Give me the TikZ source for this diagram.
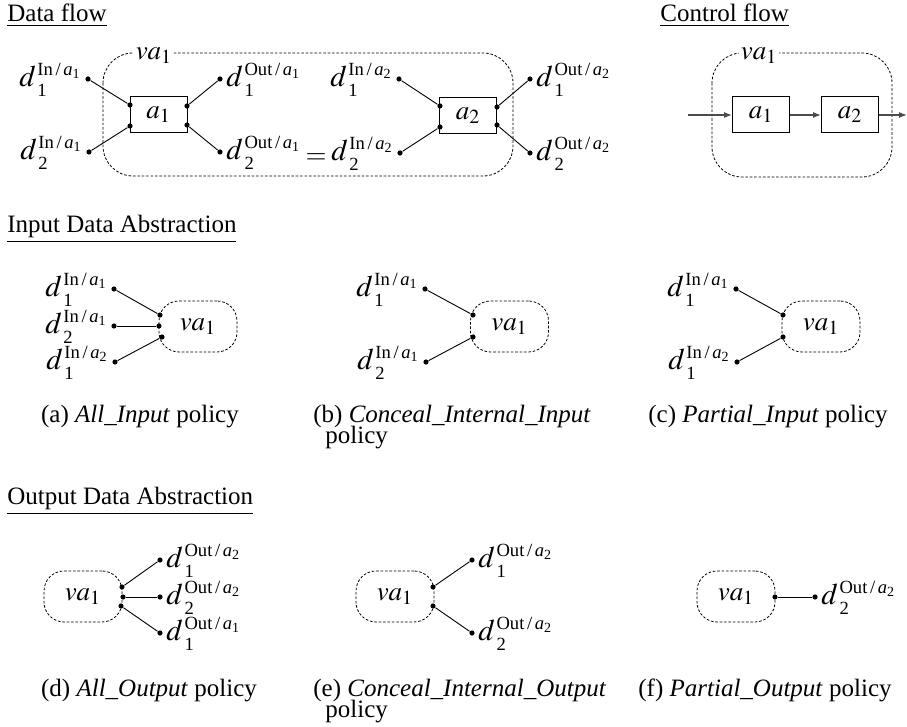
\documentclass[tikz,border=0pt]{standalone}
\usepackage{mathptmx}
\usepackage{fontspec}
\setmainfont{Liberation Serif}
\usetikzlibrary{arrows.meta, positioning}

\newcommand{\txtsize}{\fontsize{12.5}{10}\selectfont}
\newcommand{\mathsz}{\fontsize{13.5}{16}\selectfont}
\newcommand{\labsz}{\fontsize{15}{16}\selectfont}
\newcommand{\supf}{\fontsize{9.3}{10}\selectfont}
\newcommand{\subf}{\fontsize{9.3}{10}\selectfont}
\newcommand{\ssubf}{\fontsize{7}{8}\selectfont}
\newcommand{\dlab}[3]{\mbox{$d$\kern0.8pt\lower5.3pt\vbox{\baselineskip=10.8pt\lineskiplimit=-20pt
  \hbox{\supf #1\kern1.3pt/\kern1.3pt\textit{a}\lower1.8pt\hbox{\ssubf #3}}\hbox{\subf #2}}}}
\newcommand{\din}[2]{\dlab{In}{#1}{#2}}
\newcommand{\dout}[2]{\dlab{Out}{#1}{#2}}

\tikzset{
  dot/.style={circle, fill=black, inner sep=0pt, minimum size=2.6pt},
  vabox/.style={draw, dash pattern=on 1.3pt off 0.9pt, line width=0.4pt, rounded corners=15pt},
  vanode/.style={draw, dash pattern=on 1.3pt off 0.9pt, line width=0.4pt, rounded corners=10pt,
    minimum width=39pt, minimum height=25.5pt, inner sep=0pt, font=\mathsz},
  valabel/.style={fill=white, inner sep=1pt, font=\mathsz},
  actbox/.style={draw, line width=0.5pt, minimum width=28.5pt, minimum height=18pt, font=\mathsz},
  heading/.style={anchor=base west, inner sep=0pt, font=\txtsize},
  caption/.style={anchor=base, inner sep=0pt, font=\txtsize},
  capline/.style={anchor=base west, inner sep=0pt, font=\txtsize},
  dlabel/.style={inner sep=0pt, yshift=-0.5pt, font=\labsz},
  link/.style={line width=0.45pt},
  flow/.style={line width=0.6pt, draw=black!70, -{Latex[length=4pt,width=3pt]}},
}

\begin{document}
\begin{tikzpicture}[x=0.5pt, y=-0.5pt]
\useasboundingbox (0,0) rectangle (907,727);

% data flow
\node[heading] (tdata) at (7,22) {\underline{Data flow}};
\draw[vabox] (103,53) rectangle (513,176);
\node[valabel] (vad) at (154,56) {$va_1$};
\node[actbox] (a1) at (158.5,115) {$a_1$};
\node[actbox] (a2) at (468,115.5) {$a_2$};
\foreach \n/\x/\y in {p1/130/105, p2/130/126, p3/187/106, p4/187/125,
                      q1/440/106, q2/440/127, q3/497/107, q4/497/125,
                      i1/88/79, i2/89/152, o1/220/79, o2/220/152,
                      j1/399/79, j2/400/153, r1/530/79, r2/530/153} {
    \node[dot] (\n) at (\x,\y) {};
}
\foreach \s/\t in {i1/p1, i2/p2, p3/o1, p4/o2, j1/q1, j2/q2, q3/r1, q4/r2} {
    \draw[link] (\s) -- (\t);
}
\node[dlabel, left=2.5pt of i1] (li1) {\din{1}{1}};
\node[dlabel, left=2.5pt of i2] (li2) {\din{2}{1}};
\node[dlabel, right=1.5pt of o1] (lo1) {\dout{1}{1}};
\node[dlabel, right=1.5pt of o2] (lo2) {\dout{2}{1}};
\node[dlabel, left=2.5pt of j1] (lj1) {\din{1}{2}};
\node[dlabel, left=2.5pt of j2] (lj2) {\din{2}{2}};
\node[dlabel, right=1.5pt of r1] (lr1) {\dout{1}{2}};
\node[dlabel, right=1.5pt of r2] (lr2) {\dout{2}{2}};
\node[font=\mathsz] (eq) at (316,159) {$=$};

% control flow
\node[heading] (tctrl) at (660,22) {\underline{Control flow}};
\draw[vabox] (712,53) rectangle (892,177);
\node[valabel] (vac) at (759,56) {$va_1$};
\node[actbox] (c1) at (761,115) {$a_1$};
\node[actbox] (c2) at (850,115) {$a_2$};
\coordinate (cin) at (688,115);
\coordinate (cout) at (907,115);
\draw[flow] (cin) -- (c1);
\draw[flow] (c1) -- (c2);
\draw[flow] (c2) -- (cout);

% input data abstraction
\node[heading] (tin) at (7,233) {\underline{Input Data Abstraction}};
\node[vanode] (vaa) at (198,326.5) {$va_1$};
\node[vanode] (vab) at (509.5,326.5) {$va_1$};
\node[vanode] (vac) at (821,326.5) {$va_1$};
\foreach \n/\x/\y in {ea1/160/315, ea2/159/326, ea3/162/337, ga1/114/289, ga2/114/326, ga3/115/362,
                      eb1/473/315, eb2/473/337, gb1/425/289, gb2/426/362,
                      ec1/783/315, ec2/783/337, gc1/736/289, gc2/737/362} {
    \node[dot] (\n) at (\x,\y) {};
}
\foreach \s/\t in {ga1/ea1, ga2/ea2, ga3/ea3, gb1/eb1, gb2/eb2, gc1/ec1, gc2/ec2} {
    \draw[link] (\s) -- (\t);
}
\node[dlabel, left=2.5pt of ga1] {\din{1}{1}};
\node[dlabel, left=2.5pt of ga2] {\din{2}{1}};
\node[dlabel, left=2.5pt of ga3] {\din{1}{2}};
\node[dlabel, left=2.5pt of gb1] {\din{1}{1}};
\node[dlabel, left=2.5pt of gb2] {\din{2}{1}};
\node[dlabel, left=2.5pt of gc1] {\din{1}{1}};
\node[dlabel, left=2.5pt of gc2] {\din{1}{2}};
\node[caption] (capa) at (140,423) {(a) \textit{All\_Input} policy};
\node[capline] (capb) at (313,423) {(b) \textit{Conceal\_Internal\_Input}};
\node[capline] (capb2) at (325,444) {policy};
\node[caption] (capc) at (768,423) {(c) \textit{Partial\_Input} policy};

% output data abstraction
\node[heading] (tout) at (7,505) {\underline{Output Data Abstraction}};
\node[vanode] (vad) at (83,596.5) {$va_1$};
\node[vanode] (vae) at (395,596.5) {$va_1$};
\node[vanode] (vaf) at (736,596.5) {$va_1$};
\foreach \n/\x/\y in {ed1/122/587, ed2/123/597, ed3/121/606, gd1/160/560, gd2/160/597, gd3/160/633,
                      ee1/433/587, ee2/433/606, ge1/472/560, ge2/472/633,
                      ef1/775/597, gf1/815/597} {
    \node[dot] (\n) at (\x,\y) {};
}
\foreach \s/\t in {ed1/gd1, ed2/gd2, ed3/gd3, ee1/ge1, ee2/ge2, ef1/gf1} {
    \draw[link] (\s) -- (\t);
}
\node[dlabel, right=1.5pt of gd1] {\dout{1}{2}};
\node[dlabel, right=1.5pt of gd2] {\dout{2}{2}};
\node[dlabel, right=1.5pt of gd3] {\dout{1}{1}};
\node[dlabel, right=1.5pt of ge1] {\dout{1}{2}};
\node[dlabel, right=1.5pt of ge2] {\dout{2}{2}};
\node[dlabel, right=1.5pt of gf1] {\dout{2}{2}};
\node[caption] (capd) at (149,697) {(d) \textit{All\_Output} policy};
\node[capline] (cape) at (313,697) {(e) \textit{Conceal\_Internal\_Output}};
\node[capline] (cape2) at (325,718) {policy};
\node[caption] (capf) at (765,697) {(f) \textit{Partial\_Output} policy};
\end{tikzpicture}
\end{document}
